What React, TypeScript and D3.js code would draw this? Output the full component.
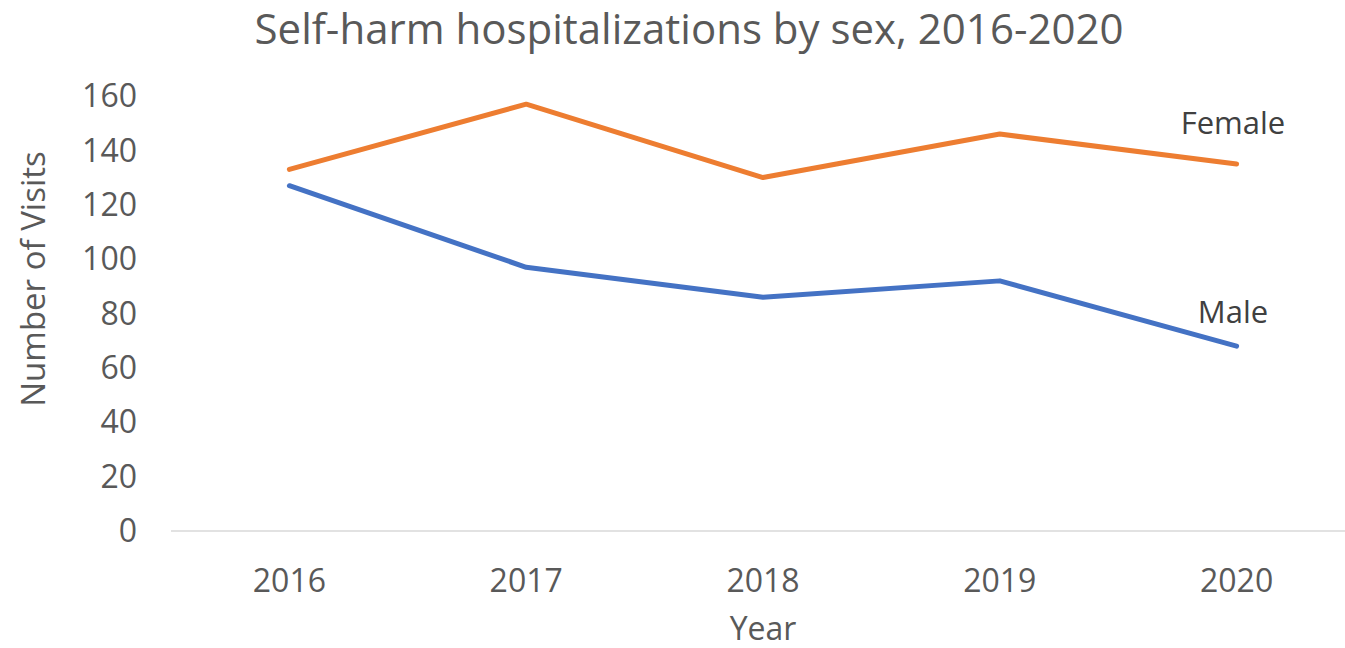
import React, { useEffect, useRef } from "react";
import * as d3 from "d3";

const years = ["2016", "2017", "2018", "2019", "2020"];
const female = [133, 157, 130, 146, 135];
const male = [127, 97, 86, 92, 68];
const yTicks = [0, 20, 40, 60, 80, 100, 120, 140, 160];

const W = 1345;
const H = 648;
const FONT = "'Open Sans', sans-serif";

export default function App() {
  const ref = useRef<SVGSVGElement>(null);

  useEffect(() => {
    document.body.style.margin = "0";
    const svg = d3.select(ref.current);
    svg.selectAll("*").remove();

    // plot area runs a little past the right edge of the picture
    const left = 171;
    const right = 1355;
    const top = 96;
    const bottom = 531;

    const x = d3.scaleBand().domain(years).range([left, right]);
    const y = d3.scaleLinear().domain([0, 160]).range([bottom, top]);
    const cx = (d: string) => (x(d) as number) + x.bandwidth() / 2;

    // title
    svg
      .append("text")
      .attr("x", 689)
      .attr("y", 44)
      .attr("text-anchor", "middle")
      .attr("font-family", FONT)
      .attr("font-size", 42)
      .attr("fill", "#595959")
      .text("Self-harm hospitalizations by sex, 2016-2020");

    // baseline
    svg
      .append("line")
      .attr("x1", left)
      .attr("x2", right)
      .attr("y1", y(0))
      .attr("y2", y(0))
      .attr("stroke", "#d9d9d9")
      .attr("stroke-width", 1.5);

    // y tick labels
    svg
      .append("g")
      .selectAll("text")
      .data(yTicks)
      .join("text")
      .attr("x", 137)
      .attr("y", (d) => y(d))
      .attr("dy", "0.35em")
      .attr("text-anchor", "end")
      .attr("font-family", FONT)
      .attr("font-size", 32)
      .attr("fill", "#595959")
      .text((d) => d);

    // x tick labels
    svg
      .append("g")
      .selectAll("text")
      .data(years)
      .join("text")
      .attr("x", (d) => cx(d))
      .attr("y", 592)
      .attr("text-anchor", "middle")
      .attr("font-family", FONT)
      .attr("font-size", 32)
      .attr("fill", "#595959")
      .text((d) => d);

    // axis titles
    svg
      .append("text")
      .attr("x", cx("2018"))
      .attr("y", 640)
      .attr("text-anchor", "middle")
      .attr("font-family", FONT)
      .attr("font-size", 32)
      .attr("fill", "#595959")
      .text("Year");

    svg
      .append("text")
      .attr("transform", `translate(45,279) rotate(-90)`)
      .attr("text-anchor", "middle")
      .attr("font-family", FONT)
      .attr("font-size", 33)
      .attr("fill", "#595959")
      .text("Number of Visits");

    const line = d3
      .line<number>()
      .x((_, i) => cx(years[i]))
      .y((d) => y(d));

    const series = [
      { name: "Female", values: female, color: "#ED7D31", labelY: 134 },
      { name: "Male", values: male, color: "#4472C4", labelY: 323 },
    ];

    series.forEach((s) => {
      svg
        .append("path")
        .datum(s.values)
        .attr("d", line)
        .attr("fill", "none")
        .attr("stroke", s.color)
        .attr("stroke-width", 5)
        .attr("stroke-linecap", "round")
        .attr("stroke-linejoin", "round");
    });

    // end labels
    svg
      .append("g")
      .selectAll("text")
      .data(series)
      .join("text")
      .attr("x", 1233)
      .attr("y", (d) => d.labelY)
      .attr("text-anchor", "middle")
      .attr("font-family", FONT)
      .attr("font-size", 31)
      .attr("fill", "#404040")
      .text((d) => d.name);
  }, []);

  return <svg ref={ref} width={W} height={H} style={{ display: "block", background: "#fff" }} />;
}
